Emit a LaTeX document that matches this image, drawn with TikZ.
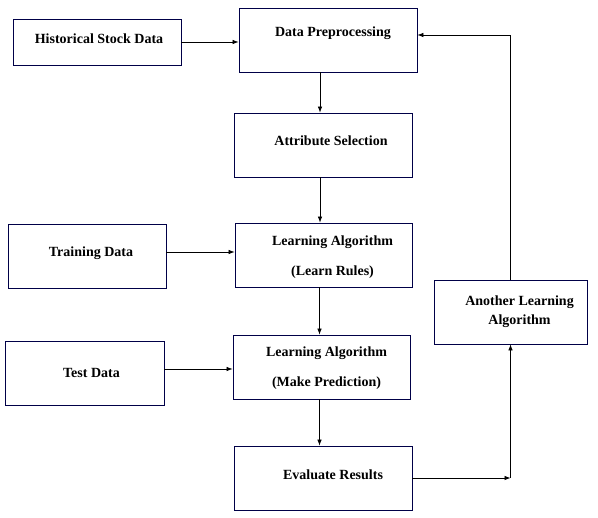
\documentclass[tikz,border=0pt]{standalone}
\usepackage{fontspec}
\setmainfont{Liberation Serif}
\usetikzlibrary{arrows.meta}
\usetikzlibrary{positioning, calc}

\begin{document}
\begin{tikzpicture}[x=1pt,y=-1pt,
    every node/.style={font=\fontsize{14}{17}\selectfont\bfseries},
    every label/.style={align=center,inner sep=0pt},
    box/.style={draw=black!60!blue!70!black,line width=0.8pt,
      minimum width=178pt,minimum height=64pt,inner sep=0pt},
    link/.style={-{Latex[length=6pt,width=4.5pt]},line width=0.7pt}]
    \useasboundingbox (0,0) rectangle (598,518);
    % Main column of processing steps
    \node[box,label={[xshift=5pt,yshift=7pt]center:Data Preprocessing}]
      (prep) at (328,40) {};
    \node[box,label={[xshift=8pt,yshift=4pt]center:Attribute Selection}]
      (attr) at (323,145) {};
    \node[box,minimum width=177pt,
      label={[xshift=9pt,yshift=-2pt]center:Learning Algorithm\\[13pt](Learn Rules)}]
      (learn) at (323.5,255) {};
    \node[box,minimum width=177pt,
      label={[xshift=5pt,yshift=-1pt]center:Learning Algorithm\\[13pt](Make Prediction)}]
      (predict) at (321.5,367) {};
    \node[box,label={[xshift=10pt,yshift=3pt]center:Evaluate Results}]
      (eval) at (323,478) {};

    % Inputs on the left, feedback box on the right
    \node[box,minimum width=168pt,minimum height=46pt,
      label={[xshift=2pt,yshift=3pt]center:Historical Stock Data}]
      (hist) at (97,42) {};
    \node[box,minimum width=158pt,label={[xshift=4pt,yshift=3pt]center:Training Data}]
      (train) at (87,256) {};
    \node[box,minimum width=159pt,label={[xshift=7pt]center:Test Data}]
      (test) at (84.5,373) {};
    \node[box,minimum width=153pt,
      label={[xshift=9pt]center:Another Learning\\[2pt]Algorithm}]
      (other) at (510.5,312) {};

    \coordinate (turn) at (eval.east -| other.south);

    % Connectors
    \draw[link] (hist.east) -- (hist.east -| prep.west);
    \draw[link] ([xshift=-3pt]attr.north |- prep.south) -- ([xshift=-3pt]attr.north);
    \draw[link] ([xshift=-3pt]attr.south) -- ([xshift=-3pt]attr.south |- learn.north);
    \draw[link] ([yshift=4pt]train.east) -- ([yshift=4pt]train.east -| learn.west);
    \draw[link] ([xshift=-4pt]learn.south) -- ([xshift=-4pt]learn.south |- predict.north);
    \draw[link] ([yshift=4pt]test.east) -- ([yshift=4pt]test.east -| predict.west);
    \draw[link] ([xshift=-2pt]predict.south) -- ([xshift=-2pt]predict.south |- eval.north);
    \draw[link] (eval.east) -- (turn);
    \draw[link] (turn) -- (other.south);
    \draw[link] (other.north) |- ([yshift=5pt]prep.east);
  \end{tikzpicture}
\end{document}
